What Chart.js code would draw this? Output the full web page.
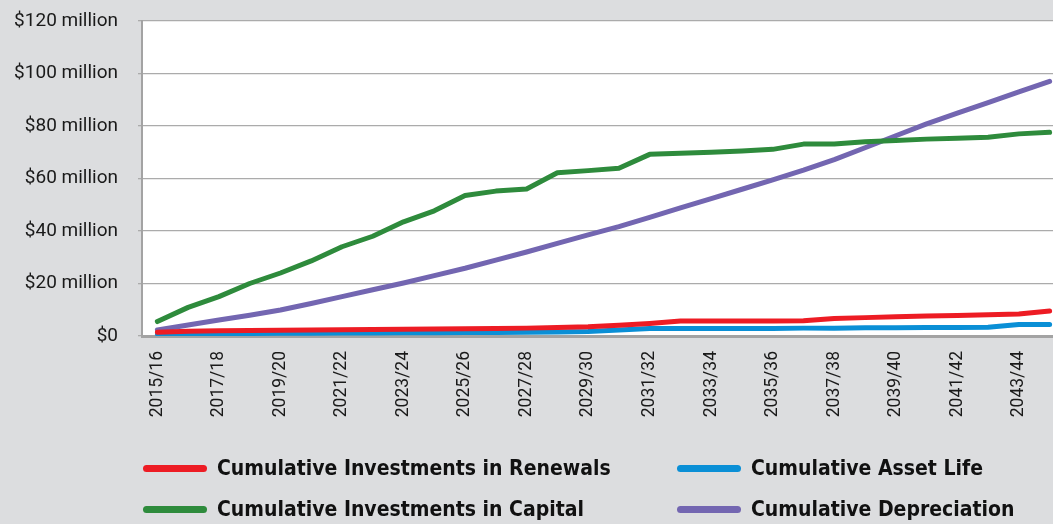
<!DOCTYPE html>
<html><head><meta charset="utf-8">
<script src="https://cdn.jsdelivr.net/npm/chart.js@4"></script>
<style>
html,body{margin:0;padding:0;background:#dcdddf;overflow:hidden;width:1053px;height:524px;}
#wrap{position:absolute;left:0;top:0;width:1068px;height:430px;}
#legend{position:absolute;left:0;top:0;width:1053px;height:524px;pointer-events:none;}
.item{position:absolute;display:flex;align-items:center;height:30px;font-family:"DejaVu Sans Condensed","DejaVu Sans";font-stretch:condensed;font-weight:bold;font-size:21px;color:#111;white-space:nowrap;}
.swatch{width:64px;height:7px;border-radius:4px;margin-right:10px;}
</style></head>
<body>
<div id="wrap"><canvas id="c"></canvas></div>
<div id="legend"></div>
<script>
const categories = ["2015/16","2016/17","2017/18","2018/19","2019/20","2020/21","2021/22","2022/23","2023/24","2024/25",
  "2025/26","2026/27","2027/28","2028/29","2029/30","2030/31","2031/32","2032/33","2033/34","2034/35",
  "2035/36","2036/37","2037/38","2038/39","2039/40","2040/41","2041/42","2042/43","2043/44","2044/45"];
const renewals = [1.4,1.8,2.0,2.1,2.2,2.3,2.4,2.5,2.6,2.7,2.8,2.9,3.0,3.2,3.5,4.1,4.8,5.7,5.7,5.7,5.7,5.8,6.7,7.0,7.3,7.6,7.8,8.1,8.4,9.5];
const assetLife = [0.8,0.85,0.9,0.95,1.0,1.05,1.1,1.15,1.2,1.25,1.3,1.35,1.45,1.55,1.7,2.3,2.9,2.9,2.9,2.9,2.9,3.0,3.0,3.1,3.1,3.2,3.2,3.3,4.4,4.4];
const capital = [5.5,10.9,15,20,24,28.6,34,38,43.5,47.7,53.5,55.2,56,62.2,63,63.9,69.2,69.6,70,70.5,71.1,73.1,73.1,74,74.5,75,75.3,75.7,77,77.6];
const depreciation = [2.3,4.2,6.1,7.9,9.9,12.4,15,17.6,20.2,23,25.8,28.9,32,35.3,38.5,41.7,45.2,48.8,52.3,55.9,59.5,63.2,67.2,71.7,76.3,80.8,84.9,88.9,93,97];
const yTicks = [0,20,40,60,80,100,120];
const seriesNames = ["Cumulative Investments in Renewals","Cumulative Asset Life","Cumulative Investments in Capital","Cumulative Depreciation"];
const seriesColors = ["#ed1c24","#0a8fd6","#2e8b3c","#7366b1"];
const seriesData = [renewals, assetLife, capital, depreciation];

const plotBg = {
  id:'plotBg',
  beforeDraw(chart){
    const {ctx, chartArea:a} = chart;
    ctx.save(); ctx.fillStyle='#ffffff';
    ctx.fillRect(a.left, a.top, a.right-a.left, a.bottom-a.top);
    ctx.restore();
  }
};

new Chart(document.getElementById('c'), {
  type:'line',
  data:{
    labels:categories,
    datasets: seriesData.map((d,i)=>({
      label:seriesNames[i], data:d, borderColor:seriesColors[i], backgroundColor:seriesColors[i],
      borderWidth:5, pointRadius:0, tension:0, borderCapStyle:'round', borderJoinStyle:'round', fill:false
    }))
  },
  options:{
    responsive:true, maintainAspectRatio:false, animation:false,
    layout:{padding:{left:0,right:3,top:21,bottom:0}},
    plugins:{legend:{display:false}, tooltip:{enabled:false}},
    scales:{
      x:{
        type:'category', offset:true,
        grid:{display:false, drawTicks:false},
        border:{display:true, color:'#a3a3a3', width:3},
        ticks:{autoSkip:false, minRotation:90, maxRotation:90, padding:15, color:'#1a1a1a',
          font:{family:'Roboto', size:17.5},
          callback:function(v,i){ return i%2===0 ? this.getLabelForValue(v) : ''; }},
        afterFit(s){ s.height = 94; s.paddingLeft = 0; s.paddingRight = 0; }
      },
      y:{
        min:0, max:120,
        afterBuildTicks(s){ s.ticks = yTicks.map(v=>({value:v})); },
        grid:{color:'#ababab', lineWidth:1.3, drawTicks:true, tickLength:4},
        border:{display:true, color:'#a3a3a3', width:2},
        ticks:{padding:20, color:'#1a1a1a', font:{family:'Roboto', size:19},
          callback:v=> v===0 ? '$0' : '$'+v+' million'},
        afterFit(s){ s.width = 142; s.paddingTop = 0; s.paddingBottom = 0; }
      }
    }
  },
  plugins:[plotBg]
});

const legend = document.getElementById('legend');
const colLeft = [143, 677];
const rowTop = [453, 494];
seriesNames.forEach((name,i)=>{
  const it = document.createElement('div');
  it.className='item';
  it.style.left = colLeft[i%2]+'px';
  it.style.top = rowTop[Math.floor(i/2)]+'px';
  const sw = document.createElement('span');
  sw.className='swatch'; sw.style.background = seriesColors[i];
  const tx = document.createElement('span'); tx.textContent = name;
  it.appendChild(sw); it.appendChild(tx);
  legend.appendChild(it);
});
</script>
</body></html>
